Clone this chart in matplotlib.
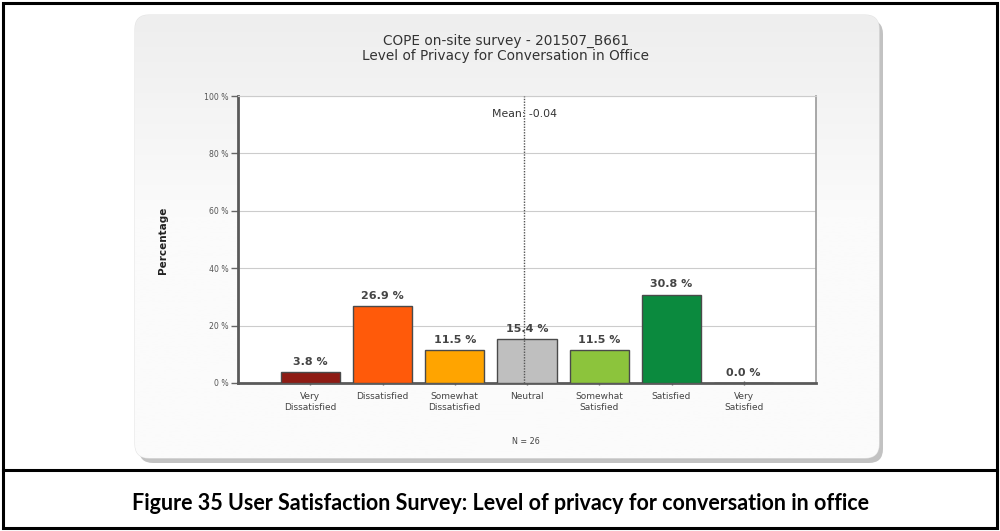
import matplotlib
matplotlib.use("Agg")
import matplotlib.pyplot as plt
from matplotlib.patches import FancyBboxPatch, Rectangle
import numpy as np

categories = ["Very\nDissatisfied", "Dissatisfied", "Somewhat\nDissatisfied", "Neutral",
              "Somewhat\nSatisfied", "Satisfied", "Very\nSatisfied"]
values = [3.8, 26.9, 11.5, 15.4, 11.5, 30.8, 0.0]
colors = ["#8e1b14", "#ff5a0a", "#ffa400", "#bfbfbf", "#8cc43c", "#0b8a3e", "#0b6a30"]
yticks = [0, 20, 40, 60, 80, 100]
ytick_labels = ["0 %", "20 %", "40 %", "60 %", "80 %", "100 %"]
mean_value = -0.04
n_resp = 26
title_lines = ["COPE on-site survey - 201507_B661", "Level of Privacy for Conversation in Office"]
caption = "Figure 35 User Satisfaction Survey: Level of privacy for conversation in office"

W, H = 1000, 531
fig = plt.figure(figsize=(W / 100, H / 100), dpi=100)
fig.patch.set_facecolor("white")

# background axes in pixel coordinates
bg = fig.add_axes([0, 0, 1, 1])
bg.set_xlim(0, W)
bg.set_ylim(H, 0)
bg.axis("off")

# outer document frame
bg.add_patch(Rectangle((3, 3), W - 6, H - 6, fill=False, lw=2.2, ec="black"))
bg.plot([3, W - 3], [470, 470], color="black", lw=2.2)
bg.text(W / 2, 504, caption, ha="center", va="center", fontsize=15.5,
        fontweight="bold", family="Lato", color="black")

# chart panel with shadow
bg.add_patch(FancyBboxPatch((139, 20), 744, 443, boxstyle="round,pad=0,rounding_size=14",
                            fc="#c2c2c2", ec="none"))
panel = FancyBboxPatch((135, 15), 744, 443, boxstyle="round,pad=0,rounding_size=14",
                       fc="#f9f9f9", ec="#e4e4e4", lw=0.8)
bg.add_patch(panel)
grad = np.linspace(0, 1, 256).reshape(-1, 1)
grad = np.clip(grad * 2.2, 0, 1)
cmap = matplotlib.colors.LinearSegmentedColormap.from_list("g", ["#eeeeee", "#fbfbfb"])
im = bg.imshow(grad, extent=(135, 879, 458, 15), cmap=cmap, aspect="auto", zorder=1.5)
im.set_clip_path(panel)
bg.set_xlim(0, W)
bg.set_ylim(H, 0)

bg.text(506, 41, title_lines[0], ha="center", va="center", fontsize=9.8, color="#333333", zorder=3)
bg.text(506, 56, title_lines[1], ha="center", va="center", fontsize=9.8, color="#333333", zorder=3)
bg.text(526, 441, f"N = {n_resp}", ha="center", va="center", fontsize=5.8, color="#444444", zorder=3)
bg.text(163, 240, "Percentage", rotation=90, ha="center", va="center", fontsize=7.5,
        fontweight="bold", color="#222222", zorder=3)

# plot axes
x0, x1, ytop, ybot = 238, 816, 96, 383
ax = fig.add_axes([x0 / W, 1 - ybot / H, (x1 - x0) / W, (ybot - ytop) / H])
ax.set_facecolor("white")
x = np.arange(len(categories))
ax.bar(x, values, width=0.82, color=colors, edgecolor="#4a4a4a", linewidth=1.0, zorder=3)
ax.set_xlim(-1, len(categories))
ax.set_ylim(0, 100)
ax.set_yticks(yticks)
ax.set_yticklabels(ytick_labels, fontsize=5.6, color="#555555")
ax.set_xticks(x)
ax.set_xticklabels(categories, fontsize=6.5, color="#444444", linespacing=1.3)
ax.tick_params(axis="y", length=5, width=1.0, color="#666666", pad=2)
ax.tick_params(axis="x", length=3, width=1.0, color="#666666", pad=5, direction="inout")
ax.yaxis.grid(True, color="#cccccc", lw=0.8, zorder=0)
for s in ["left", "bottom"]:
    ax.spines[s].set_color("#5a5a5a")
    ax.spines[s].set_linewidth(2.0)
ax.spines["right"].set_color("#999999")
ax.spines["right"].set_linewidth(1.2)
ax.spines["top"].set_color("#cccccc")
ax.spines["top"].set_linewidth(0.8)

for xi, v in zip(x, values):
    ax.text(xi, v + 1.8, f"{v:.1f} %", ha="center", va="bottom", fontsize=8,
            fontweight="bold", color="#444444", zorder=4)

# mean line (neutral = 0 at index 3)
mx = 3 + mean_value
ax.axvline(mx, color="#555555", lw=1.0, ls=(0, (1, 1)), zorder=5)
ax.text(mx, 95.5, f"Mean: {mean_value:.2f}", ha="center", va="top", fontsize=7.8,
        color="#333333", zorder=6)

fig.savefig("out.png", dpi=100)
